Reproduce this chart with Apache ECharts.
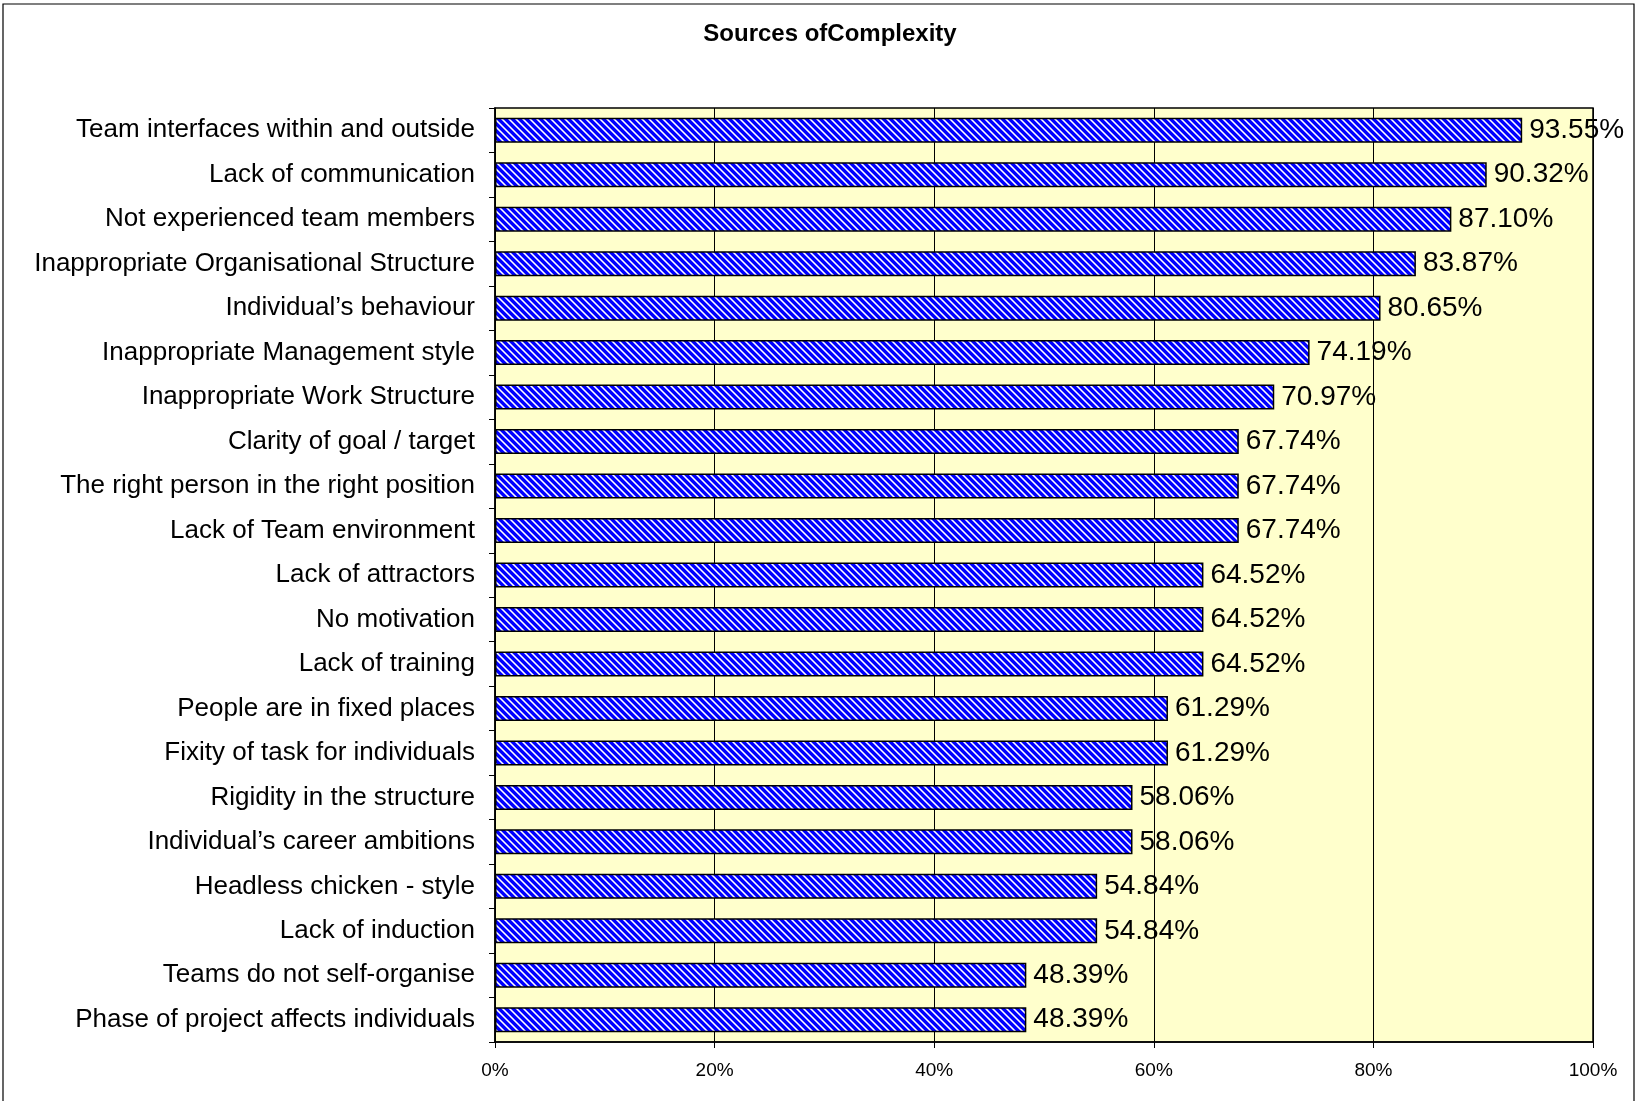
<!DOCTYPE html>
<html>
<head>
<meta charset="utf-8">
<script src="https://cdn.jsdelivr.net/npm/echarts@6/dist/echarts.min.js"></script>
<style>
html,body{margin:0;padding:0;background:#fff;}
#chart{width:1644px;height:1101px;}
</style>
</head>
<body>
<div id="chart"></div>
<script>
const titleText = 'Sources ofComplexity';
const categories = [
  'Team interfaces within and outside',
  'Lack of communication',
  'Not experienced team members',
  'Inappropriate Organisational Structure',
  'Individual\u2019s behaviour',
  'Inappropriate Management style',
  'Inappropriate Work Structure',
  'Clarity of goal / target',
  'The right person in the right position',
  'Lack of Team environment',
  'Lack of attractors',
  'No motivation',
  'Lack of training',
  'People are in fixed places',
  'Fixity of task for individuals',
  'Rigidity in the structure',
  'Individual\u2019s career ambitions',
  'Headless chicken - style',
  'Lack of induction',
  'Teams do not self-organise',
  'Phase of project affects individuals'
];
const values = [93.55, 90.32, 87.10, 83.87, 80.65, 74.19, 70.97, 67.74, 67.74, 67.74,
  64.52, 64.52, 64.52, 61.29, 61.29, 58.06, 58.06, 54.84, 54.84, 48.39, 48.39];
const xTicks = [0, 20, 40, 60, 80, 100];

// diagonal stripe pattern
function makePattern() {
  const n = 7;
  const c = document.createElement('canvas');
  c.width = n; c.height = n;
  const ctx = c.getContext('2d');
  const img = ctx.createImageData(n, n);
  for (let y = 0; y < n; y++) {
    for (let x = 0; x < n; x++) {
      const k = ((x - y) % n + n) % n;
      const i = (y * n + x) * 4;
      let r, g;
      if (k < 4) { r = 0; g = 0; }
      else if (k === 4 || k === 6) { r = 150; g = 150; }
      else { r = 255; g = 255; }
      img.data[i] = r;
      img.data[i + 1] = g;
      img.data[i + 2] = 255;
      img.data[i + 3] = 255;
    }
  }
  ctx.putImageData(img, 0, 0);
  return c;
}

const chart = echarts.init(document.getElementById('chart'), null, {renderer: 'canvas'});
const FONT = '"Liberation Sans", Arial, Helvetica, sans-serif';
chart.setOption({
  backgroundColor: '#ffffff',
  animation: false,
  title: {
    text: titleText,
    left: 825,
    textAlign: 'center',
    top: 17,
    textStyle: {fontFamily: FONT, fontSize: 24, fontWeight: 'bold', color: '#000'}
  },
  graphic: [{
    type: 'rect',
    shape: {x: 3, y: 4, width: 1631, height: 1105},
    style: {fill: 'none', stroke: '#000', lineWidth: 1.2},
    silent: true
  }],
  grid: {
    left: 495, right: 51, top: 108, bottom: 59,
    show: true, backgroundColor: '#FFFFCC', borderColor: '#000', borderWidth: 1.5
  },
  xAxis: {
    type: 'value', min: 0, max: 100, interval: 20,
    axisLine: {show: true, lineStyle: {color: '#000', width: 1.5}},
    axisTick: {show: true, length: 6, lineStyle: {color: '#000'}},
    splitLine: {show: true, lineStyle: {color: '#000', width: 1}},
    axisLabel: {
      formatter: v => xTicks.indexOf(v) >= 0 ? v + '%' : '',
      fontFamily: FONT, fontSize: 19, color: '#000', margin: 19
    }
  },
  yAxis: {
    type: 'category', data: categories, inverse: true,
    axisLine: {show: true, lineStyle: {color: '#000', width: 1.5}},
    axisTick: {show: true, length: 6, lineStyle: {color: '#000'}},
    axisLabel: {fontFamily: FONT, fontSize: 26, color: '#000', margin: 20}
  },
  series: [{
    type: 'bar',
    data: values,
    barWidth: 25,
    itemStyle: {
      color: {image: makePattern(), repeat: 'repeat'},
      borderColor: '#000', borderWidth: 1.5
    },
    label: {
      show: true, position: 'right', distance: 7,
      formatter: p => p.value.toFixed(2) + '%',
      fontFamily: FONT, fontSize: 28, color: '#000'
    }
  }]
});
</script>
</body>
</html>
